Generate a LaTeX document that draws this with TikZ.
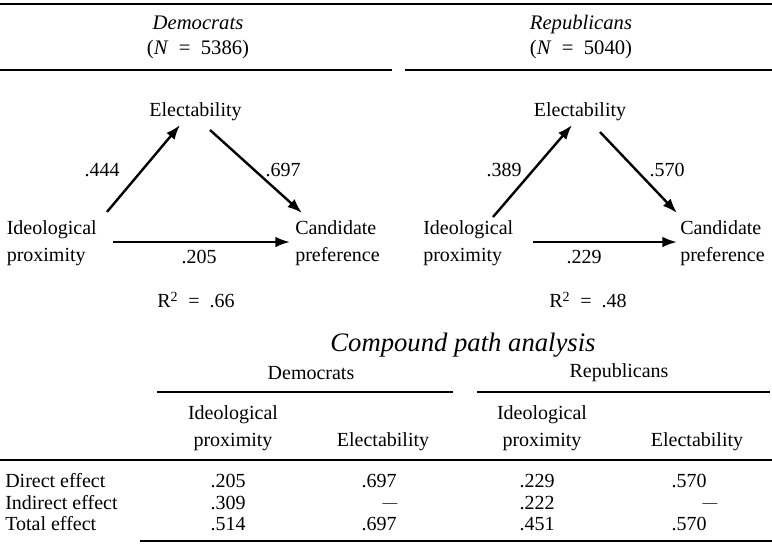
\documentclass[tikz,border=0pt]{standalone}
\usepackage{fontspec}
\setmainfont{Liberation Serif}
\usetikzlibrary{arrows.meta}

\tikzset{
  txt/.style={inner sep=0.75pt, font=\fontsize{15}{20.25}\selectfont},
  grouptitle/.style={inner sep=0.75pt, align=center, font=\fontsize{15.5}{18.75}\selectfont},
  nodash/.style={inner sep=0.75pt, font=\fontsize{11}{13}\selectfont},
  patharrow/.style={line width=1.8pt, -{Latex[length=11pt,width=8pt]}},
  tabrule/.style={line width=1.1pt},
}
\newcommand{\eqsp}{\hspace{0.5em}=\hspace{0.5em}}

\begin{document}
\begin{tikzpicture}[x=0.75pt,y=0.75pt,yscale=-1,xscale=1]
\useasboundingbox (0,0) rectangle (772,551);

%Straight Lines: rules of the heading
\draw [line width=1.5pt] (0,4) -- (772,4) ;
\draw [tabrule] (0,70) -- (392,70) ;
\draw [tabrule] (405,70) -- (772,70) ;

% Text Node: group titles
\draw (198,37) node [grouptitle] (titleD) {\textit{Democrats}\\(\textit{N}\eqsp 5386)};
\draw (581,37) node [grouptitle] (titleR) {\textit{Republicans}\\(\textit{N}\eqsp 5040)};

%Democrats path diagram
\draw (195.5,112) node [txt] (electD) {Electability};
\draw (5.5,243) node [txt, anchor=west, align=left] (ideoD) {Ideological\\proximity};
\draw (294,243) node [txt, anchor=west, align=left] (candD) {Candidate\\preference};
\draw [patharrow] ([xshift=76.1pt,yshift=-23.3pt]ideoD.west) -- ([xshift=-11.6pt,yshift=9.75pt]electD.center) ;
\draw [patharrow] ([xshift=10.9pt,yshift=13.5pt]electD.center) -- ([xshift=6pt,yshift=-22.5pt]candD.west) ;
\draw [patharrow] ([xshift=80.6pt,yshift=-0.75pt]ideoD.west) -- ([xshift=-3pt,yshift=-0.75pt]candD.west) ;
\draw (102,170) node [txt] (coefIED) {.444};
\draw (283,170) node [txt] (coefECD) {.697};
\draw (199,257) node [txt] (coefICD) {.205};
\draw (196,300) node [txt] (rsqD) {R\textsuperscript{2}\eqsp .66};

%Republicans path diagram
\draw (580,112) node [txt] (electR) {Electability};
\draw (422,243) node [txt, anchor=west, align=left] (ideoR) {Ideological\\proximity};
\draw (679,243) node [txt, anchor=west, align=left] (candR) {Candidate\\preference};
\draw [patharrow] ([xshift=53.25pt,yshift=-19.5pt]ideoR.west) -- ([xshift=-6pt,yshift=9.75pt]electR.center) ;
\draw [patharrow] ([xshift=15pt,yshift=15pt]electR.center) -- ([xshift=-1.5pt,yshift=-22.5pt]candR.west) ;
\draw [patharrow] ([xshift=83.25pt,yshift=-0.75pt]ideoR.west) -- ([xshift=-1.5pt,yshift=-0.75pt]candR.west) ;
\draw (504,170) node [txt] (coefIER) {.389};
\draw (667,170) node [txt] (coefECR) {.570};
\draw (584,257) node [txt] (coefICR) {.229};
\draw (588,300) node [txt] (rsqR) {R\textsuperscript{2}\eqsp .48};

%Compound path analysis table
\draw (463,345) node [inner sep=0.75pt, font=\fontsize{20}{24}\selectfont\itshape] (tabTitle) {Compound path analysis};
\draw (311,373) node [txt] (tabDem) {Democrats};
\draw (619,373) node [txt] (tabRep) {Republicans};
\draw [tabrule] (157,392) -- (453,392) ;
\draw [tabrule] (477,392) -- (770,392) ;

\draw (233,428.5) node [txt, align=center] (hdIdeoD) {Ideological\\proximity};
\draw (383,442) node [txt] (hdElecD) {Electability};
\draw (542,428.5) node [txt, align=center] (hdIdeoR) {Ideological\\proximity};
\draw (697,442) node [txt] (hdElecR) {Electability};
\draw [tabrule] (0,460) -- (772,460) ;

% Text Node: row labels
\draw (4,481) node [txt, anchor=west] (rowDirect) {Direct effect};
\draw (4,503) node [txt, anchor=west] (rowIndirect) {Indirect effect};
\draw (4,524) node [txt, anchor=west] (rowTotal) {Total effect};

% Text Node: Democrats values
\draw (228,481) node [txt] (dirIdeoD) {.205};
\draw (228,503) node [txt] (indIdeoD) {.309};
\draw (228,524) node [txt] (totIdeoD) {.514};
\draw (379,481) node [txt] (dirElecD) {.697};
\draw (390,506) node [nodash] (indElecD) {—};
\draw (379,524) node [txt] (totElecD) {.697};

% Text Node: Republicans values
\draw (537,481) node [txt] (dirIdeoR) {.229};
\draw (537,503) node [txt] (indIdeoR) {.222};
\draw (537,524) node [txt] (totIdeoR) {.451};
\draw (689,481) node [txt] (dirElecR) {.570};
\draw (710,506) node [nodash] (indElecR) {—};
\draw (689,524) node [txt] (totElecR) {.570};

\draw [tabrule] (140,541) -- (772,541) ;

\end{tikzpicture}
\end{document}
